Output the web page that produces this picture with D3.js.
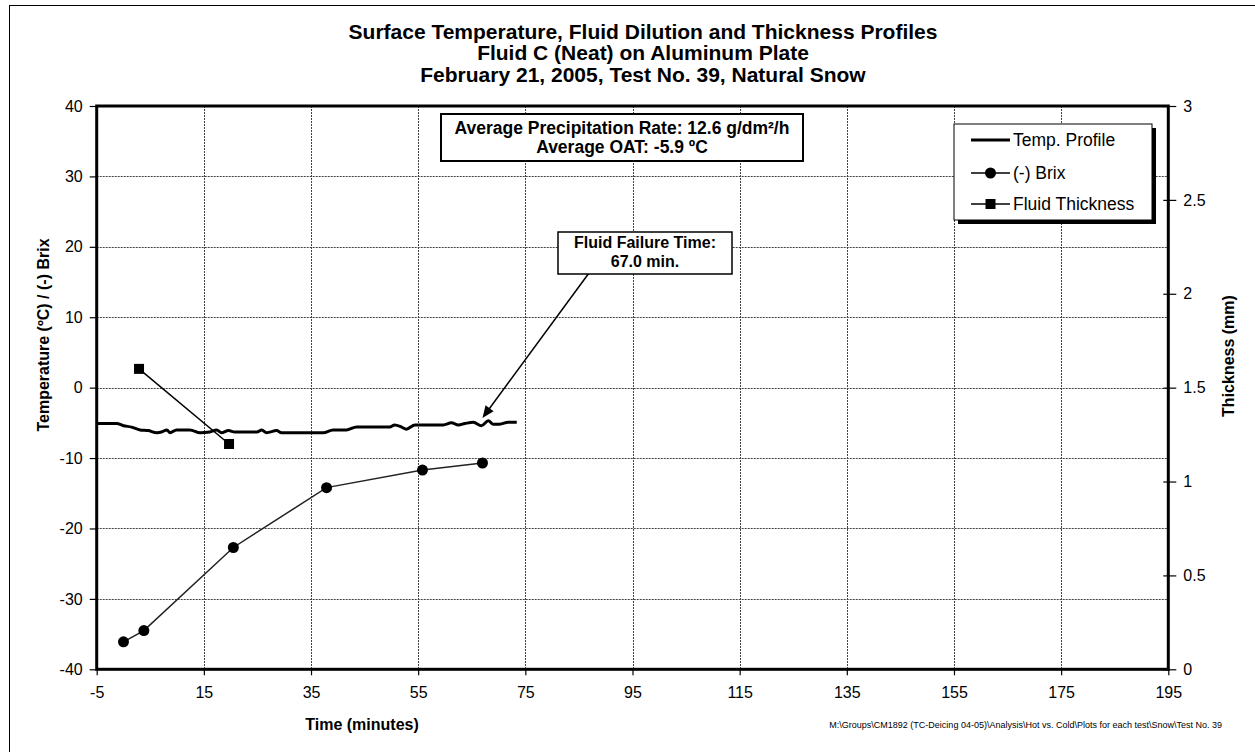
<!DOCTYPE html>
<html>
<head>
<meta charset="utf-8">
<script src="https://cdn.jsdelivr.net/npm/d3@7"></script>
<style>
  body { margin: 0; background: #fff; }
  svg { font-family: "Liberation Sans", Arial, sans-serif; }
</style>
</head>
<body>
<div id="chart"></div>
<script>
// data
const tempTime  = [-5, -1.3, 0, 1.5, 3.1, 4.6, 6.2, 7.1, 8.1, 8.7, 9.9, 12.4, 14.3, 16.1, 17.4, 18.3, 19.6, 20.8, 24.9, 25.8, 26.7, 28.6, 29.5, 37.3, 39.1, 41.6, 43.5, 49.7, 50.6, 51.9, 52.8, 54.4, 59.7, 61.2, 62.5, 63.7, 65.3, 66.8, 68.1, 69.0, 70.2, 71.8, 73.4];
const tempValue = [-5.1, -5.1, -5.4, -5.6, -6.0, -6.1, -6.4, -6.3, -6.0, -6.4, -6.0, -6.0, -6.4, -6.3, -6.0, -6.4, -6.1, -6.3, -6.3, -6.0, -6.4, -6.1, -6.4, -6.4, -6.0, -6.0, -5.6, -5.6, -5.3, -5.6, -5.9, -5.3, -5.3, -5.0, -5.3, -5.1, -4.9, -5.4, -4.7, -5.2, -5.2, -4.9, -4.9];

const brixTime  = [0.0, 3.8, 20.5, 37.9, 55.8, 67.0];
const brixValue = [-36.1, -34.5, -22.7, -14.2, -11.7, -10.7];

const thickTime  = [2.9, 19.7];
const thickValue = [1.6, 1.2];

const xTicks  = [-5, 15, 35, 55, 75, 95, 115, 135, 155, 175, 195];
const yTicks  = [-40, -30, -20, -10, 0, 10, 20, 30, 40];
const y2Ticks = [0, 0.5, 1, 1.5, 2, 2.5, 3];

const titleLines = ["Surface Temperature, Fluid Dilution and Thickness Profiles",
                    "Fluid C (Neat) on Aluminum Plate",
                    "February 21, 2005, Test No. 39, Natural Snow"];
const infoLines = ["Average Precipitation Rate: 12.6 g/dm²/h", "Average OAT: -5.9 ºC"];
const failLines = ["Fluid Failure Time:", "67.0 min."];
const failTime = 67.0;
const legendNames = ["Temp. Profile", "(-) Brix", "Fluid Thickness"];

const W = 1255, H = 752;
const plot = {left: 96.7, right: 1168.3, top: 106, bottom: 669.3};

const svg = d3.select("#chart").append("svg")
    .attr("width", W).attr("height", H);

svg.append("rect").attr("width", W).attr("height", H).attr("fill", "#fff");
// outer chart border (runs off the right/bottom of the picture)
svg.append("rect")
    .attr("x", 9.5).attr("y", 5.5).attr("width", 1300).attr("height", 800)
    .attr("fill", "none").attr("stroke", "#000").attr("stroke-width", 1);

const x = d3.scaleLinear().domain([-5, 195]).range([plot.left, plot.right]);
const y = d3.scaleLinear().domain([-40, 40]).range([plot.bottom, plot.top]);
const y2 = d3.scaleLinear().domain([0, 3]).range([plot.bottom, plot.top]);

// plain hyphen for negatives, like the original
const fmt = d => String(d);

// gridlines
const grid = svg.append("g").attr("stroke", "#444").attr("stroke-width", 1)
    .attr("stroke-dasharray", "2,1");
grid.selectAll("line.v").data(xTicks.slice(1, -1)).join("line")
    .attr("x1", d => Math.round(x(d)) + 0.5).attr("x2", d => Math.round(x(d)) + 0.5)
    .attr("y1", plot.top).attr("y2", plot.bottom);
grid.selectAll("line.h").data(yTicks.slice(1, -1)).join("line")
    .attr("y1", d => Math.round(y(d)) + 0.5).attr("y2", d => Math.round(y(d)) + 0.5)
    .attr("x1", plot.left).attr("x2", plot.right);

// axes
const xAxis = svg.append("g")
    .attr("transform", `translate(0,${plot.bottom})`)
    .call(d3.axisBottom(x).tickValues(xTicks).tickSize(6).tickPadding(11.5).tickFormat(fmt));
const yAxis = svg.append("g")
    .attr("transform", `translate(${plot.left},0)`)
    .call(d3.axisLeft(y).tickValues(yTicks).tickSize(7).tickPadding(7).tickFormat(fmt));
const y2Axis = svg.append("g")
    .attr("transform", `translate(${plot.right},0)`)
    .call(d3.axisRight(y2).tickValues(y2Ticks).tickSize(8).tickPadding(7).tickFormat(fmt));
y2Axis.selectAll(".tick line").attr("x1", -5);

[xAxis, yAxis, y2Axis].forEach(g => {
  g.select(".domain").remove();
  g.selectAll(".tick line").attr("stroke", "#000").attr("stroke-width", 1.2);
  g.selectAll(".tick text").attr("fill", "#000")
    .style("font-size", "16px").style("font-family", "'Liberation Sans', Arial, sans-serif");
});

// plot frame
svg.append("rect")
    .attr("x", plot.left).attr("y", plot.top)
    .attr("width", plot.right - plot.left).attr("height", plot.bottom - plot.top)
    .attr("fill", "none").attr("stroke", "#000").attr("stroke-width", 3);

// temperature profile
const tempData = tempTime.map((t, i) => [t, tempValue[i]]);
svg.append("path").datum(tempData)
    .attr("fill", "none").attr("stroke", "#000").attr("stroke-width", 3)
    .attr("stroke-linejoin", "round")
    .attr("d", d3.line().x(d => x(d[0])).y(d => y(d[1])).curve(d3.curveMonotoneX));

// brix
const brixData = brixTime.map((t, i) => [t, brixValue[i]]);
svg.append("path").datum(brixData)
    .attr("fill", "none").attr("stroke", "#222").attr("stroke-width", 1.5)
    .attr("d", d3.line().x(d => x(d[0])).y(d => y(d[1])));
svg.selectAll("circle.brix").data(brixData).join("circle")
    .attr("cx", d => x(d[0])).attr("cy", d => y(d[1])).attr("r", 5.5).attr("fill", "#000");

// thickness
const thickData = thickTime.map((t, i) => [t, thickValue[i]]);
svg.append("path").datum(thickData)
    .attr("fill", "none").attr("stroke", "#000").attr("stroke-width", 1.5)
    .attr("d", d3.line().x(d => x(d[0])).y(d => y2(d[1])));
svg.selectAll("rect.thick").data(thickData).join("rect")
    .attr("x", d => x(d[0]) - 5).attr("y", d => y2(d[1]) - 5)
    .attr("width", 10).attr("height", 10).attr("fill", "#000");

// titles
svg.append("g").selectAll("text").data(titleLines).join("text")
    .attr("x", 643).attr("y", (d, i) => 38.5 + i * 21.5)
    .attr("text-anchor", "middle").style("font-size", "21px").style("font-weight", "bold")
    .text(d => d);

svg.append("text")
    .attr("transform", `translate(49,335) rotate(-90)`)
    .attr("text-anchor", "middle").style("font-size", "16px").style("font-weight", "bold")
    .text("Temperature (ºC) / (-) Brix");
svg.append("text")
    .attr("transform", `translate(1234,356) rotate(-90)`)
    .attr("text-anchor", "middle").style("font-size", "16px").style("font-weight", "bold")
    .text("Thickness (mm)");
svg.append("text")
    .attr("x", 362).attr("y", 730)
    .attr("text-anchor", "middle").style("font-size", "16px").style("font-weight", "bold")
    .text("Time (minutes)");
svg.append("text")
    .attr("x", 1222).attr("y", 728)
    .attr("text-anchor", "end").style("font-size", "9px")
    .text("M:\\Groups\\CM1892 (TC-Deicing 04-05)\\Analysis\\Hot vs. Cold\\Plots for each test\\Snow\\Test No. 39");

// precipitation info box
svg.append("rect")
    .attr("x", 441).attr("y", 114).attr("width", 362).attr("height", 47)
    .attr("fill", "#fff").attr("stroke", "#000").attr("stroke-width", 2);
svg.append("g").selectAll("text").data(infoLines).join("text")
    .attr("x", 622).attr("y", (d, i) => 134 + i * 19)
    .attr("text-anchor", "middle").style("font-size", "17.5px").style("font-weight", "bold")
    .text(d => d);

// failure time callout
const tipX = x(failTime), tipY = 418;
const tailX = 589, tailY = 273;
const ang = Math.atan2(tipY - tailY, tipX - tailX);
svg.append("line")
    .attr("x1", tailX).attr("y1", tailY)
    .attr("x2", tipX - 9 * Math.cos(ang)).attr("y2", tipY - 9 * Math.sin(ang))
    .attr("stroke", "#000").attr("stroke-width", 1.5);
const ah = 12, aw = 5;
svg.append("path")
    .attr("d", `M${tipX},${tipY}` +
      `L${tipX - ah * Math.cos(ang) + aw * Math.sin(ang)},${tipY - ah * Math.sin(ang) - aw * Math.cos(ang)}` +
      `L${tipX - ah * Math.cos(ang) - aw * Math.sin(ang)},${tipY - ah * Math.sin(ang) + aw * Math.cos(ang)}Z`)
    .attr("fill", "#000");
svg.append("rect")
    .attr("x", 558).attr("y", 232).attr("width", 174).attr("height", 42)
    .attr("fill", "#fff").attr("stroke", "#000").attr("stroke-width", 1.5);
svg.append("g").selectAll("text").data(failLines).join("text")
    .attr("x", 645).attr("y", (d, i) => 247.5 + i * 19)
    .attr("text-anchor", "middle").style("font-size", "16px").style("font-weight", "bold")
    .text(d => d);

// legend
const lg = svg.append("g");
lg.append("rect").attr("x", 958).attr("y", 128).attr("width", 198).attr("height", 96).attr("fill", "#000");
lg.append("rect").attr("x", 954).attr("y", 124).attr("width", 198).attr("height", 96)
    .attr("fill", "#fff").attr("stroke", "#000").attr("stroke-width", 1);
const legY = [140, 173, 204];
legendNames.forEach((name, i) => {
  lg.append("line").attr("x1", 971).attr("x2", 1010).attr("y1", legY[i]).attr("y2", legY[i])
    .attr("stroke", "#000").attr("stroke-width", i === 0 ? 3 : 1.5);
  if (i === 1) lg.append("circle").attr("cx", 990.5).attr("cy", legY[i]).attr("r", 5.5).attr("fill", "#000");
  if (i === 2) lg.append("rect").attr("x", 985.5).attr("y", legY[i] - 5).attr("width", 10).attr("height", 10).attr("fill", "#000");
  lg.append("text").attr("x", 1013).attr("y", legY[i] + 6)
    .style("font-size", "17.5px").text(name);
});
</script>
</body>
</html>
